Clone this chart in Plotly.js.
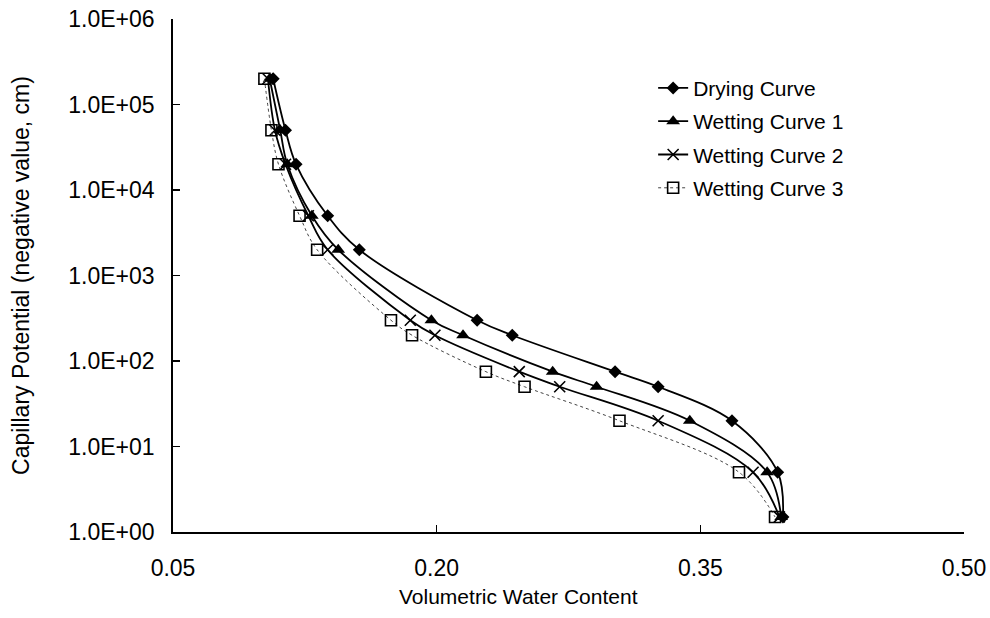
<!DOCTYPE html>
<html>
<head>
<meta charset="utf-8">
<script src="https://cdn.plot.ly/plotly-3.0.1.min.js"></script>
<style>html,body{margin:0;padding:0;background:#fff;}#chart{width:990px;height:618px;}</style>
</head>
<body>
<div id="chart"></div>
<script>
// Capillary potential levels (negative value, cm)
const potential = [200000, 50000, 20000, 5000, 2000, 300, 200, 75, 50, 20, 5, 1.5];
// Volumetric water content per curve
const dryingCurve   = [0.107, 0.114, 0.120, 0.138, 0.156, 0.223, 0.243, 0.3015, 0.326, 0.368, 0.394, 0.397];
const wettingCurve1 = [0.105, 0.111, 0.115, 0.129, 0.144, 0.197, 0.215, 0.266, 0.291, 0.344, 0.388, 0.396];
const wettingCurve2 = [0.104, 0.108, 0.114, 0.127, 0.138, 0.185, 0.199, 0.247, 0.270, 0.326, 0.380, 0.395];
const wettingCurve3 = [0.102, 0.106, 0.110, 0.122, 0.132, 0.174, 0.186, 0.228, 0.250, 0.304, 0.372, 0.3925];

const seriesNames = ["Drying Curve", "Wetting Curve 1", "Wetting Curve 2", "Wetting Curve 3"];
const yTickVals = [1, 10, 100, 1000, 10000, 100000, 1000000];
const yTickText = ["1.0E+00", "1.0E+01", "1.0E+02", "1.0E+03", "1.0E+04", "1.0E+05", "1.0E+06"];
const xTickVals = [0.05, 0.20, 0.35, 0.50];
const xTickText = ["0.05", "0.20", "0.35", "0.50"];
const xTitle = "Volumetric Water Content";
const yTitle = "Capillary Potential (negative value, cm)";

const FONT = "Liberation Sans, Arial, sans-serif";

function trace(x, name, marker, line, grp) {
  return {
    x: x, y: potential, name: name, type: "scatter", mode: "lines+markers",
    line: Object.assign({shape: "spline", smoothing: 1}, line),
    marker: marker, legendgroup: grp
  };
}

const data = [
  trace(dryingCurve, seriesNames[0], {symbol: "diamond", size: 10, color: "#000"}, {color: "#000", width: 1.8}, "a"),
  trace(wettingCurve1, seriesNames[1], {symbol: "triangle-up", size: 12, color: "#000"}, {color: "#000", width: 1.8}, "b"),
  trace(wettingCurve2, seriesNames[2], {symbol: "x-thin-open", size: 11, color: "#000", line: {color: "#000", width: 1.6}}, {color: "#000", width: 1.8}, "c"),
  trace(wettingCurve3, seriesNames[3], {symbol: "square-open", size: 11, color: "#000", line: {color: "#000", width: 1.6}}, {color: "#444", width: 1, dash: "dot"}, "d")
];

const layout = {
  width: 990, height: 618,
  margin: {l: 173, r: 26, t: 19, b: 86},
  paper_bgcolor: "#fff", plot_bgcolor: "#fff",
  font: {family: FONT, size: 22, color: "#000"},
  showlegend: true,
  legend: {
    x: 0.607, y: 0.905, xanchor: "left", yanchor: "top",
    font: {family: FONT, size: 21, color: "#000"},
    bgcolor: "rgba(0,0,0,0)", borderwidth: 0,
    traceorder: "grouped", tracegroupgap: 3, itemwidth: 30
  },
  xaxis: {
    range: [0.05, 0.50], tickvals: xTickVals, ticktext: xTickText,
    ticks: "inside", ticklen: 7, tickwidth: 1.5, tickcolor: "#000",
    showline: true, linecolor: "#000", linewidth: 1.8, mirror: false,
    showgrid: false, zeroline: false,
    tickfont: {family: FONT, size: 23, color: "#000"},
    ticklabelstandoff: 15
  },
  yaxis: {
    type: "log", range: [0, 6], tickvals: yTickVals, ticktext: yTickText,
    ticks: "inside", ticklen: 7, tickwidth: 1.5, tickcolor: "#000",
    showline: true, linecolor: "#000", linewidth: 1.8, mirror: false,
    showgrid: false, zeroline: false,
    tickfont: {family: FONT, size: 23, color: "#000"},
    ticklabelstandoff: 12,
    title: {text: yTitle, font: {family: FONT, size: 23, color: "#000"}, standoff: 32}
  },
  annotations: [{
    text: xTitle, xref: "paper", yref: "paper", x: 0.4374, y: -0.1267,
    xanchor: "center", yanchor: "middle", showarrow: false,
    font: {family: FONT, size: 21, color: "#000"}
  }]
};

Plotly.newPlot("chart", data, layout, {staticPlot: true, displayModeBar: false});
</script>
</body>
</html>
